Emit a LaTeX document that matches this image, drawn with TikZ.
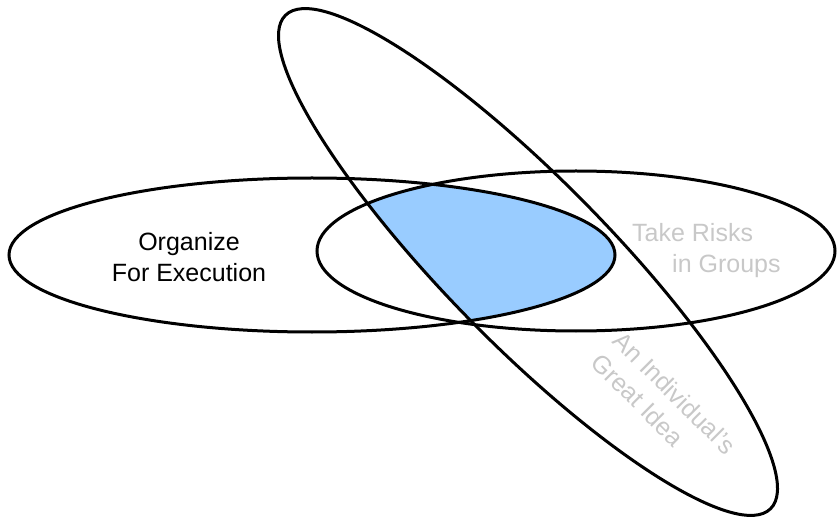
\documentclass[tikz,border=0pt]{standalone}
\usepackage{fontspec}
\setmainfont{Liberation Sans}
\usepackage{xcolor}
\usepackage{tikz}
\definecolor{ideablue}{RGB}{153,204,255}
\definecolor{softgray}{RGB}{200,200,200}

\begin{document}
\begin{tikzpicture}[
    x=1bp, y=1bp,
    ring/.style={draw=black, line width=3bp},
    label/.style={font=\fontsize{25bp}{31bp}\selectfont, inner sep=0pt, align=left},
    fadedlabel/.style={label, text=softgray}
  ]
  \useasboundingbox (0,0) rectangle (837,-517);

  % Shared region of the three sets
  \begin{scope}
    \clip (312,-255) ellipse [x radius=303, y radius=77];
    \clip (576,-251) ellipse [x radius=259, y radius=80];
    \fill[ideablue] (528,-262) ellipse [x radius=346, y radius=82, rotate=-45.5];
  \end{scope}

  % The three sets
  \draw[ring] (312,-255) ellipse [x radius=303, y radius=77];
  \draw[ring] (576,-251) ellipse [x radius=259, y radius=80];
  \draw[ring] (528,-262) ellipse [x radius=346, y radius=82, rotate=-45.5];

  % Labels
  \node[label, align=center] (execution) at (189,-257) {Organize\\For Execution};
  \node[fadedlabel, anchor=west] (risks) at (632,-251) {Take Risks\\\hspace*{40bp}in Groups};
  \node[fadedlabel, rotate=-45] (idea) at (664,-404) {An Individual's\\Great Idea};

\end{tikzpicture}
\end{document}
